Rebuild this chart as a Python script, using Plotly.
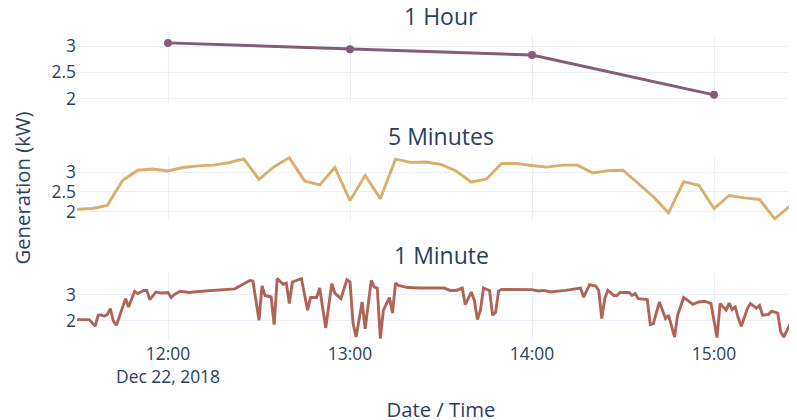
import pandas as pd
import plotly.graph_objects as go
from plotly.subplots import make_subplots

# ---------------- data ----------------
hour_times = ["2018-12-22 12:00", "2018-12-22 13:00", "2018-12-22 14:00", "2018-12-22 15:00"]
hour_values = [3.06, 2.94, 2.83, 2.07]

five_min_start = "2018-12-22 11:30"
five_min_values = [
    2.06, 2.08, 2.16, 2.79, 3.05, 3.08, 3.03, 3.12, 3.16, 3.18, 3.24, 3.34,
    2.82, 3.14, 3.37, 2.78, 2.68, 3.12, 2.28, 2.92, 2.33, 3.33, 3.25, 3.26,
    3.20, 3.03, 2.75, 2.83, 3.22, 3.22, 3.17, 3.13, 3.18, 3.18, 2.98, 3.04,
    3.05, 2.71, 2.38, 1.97, 2.76, 2.67, 2.08, 2.41, 2.35, 2.31, 1.82, 2.14,
    2.42,
]

# 1-minute readings: minutes after 11:30 and value (kW)
one_min_offsets = [
    0, 2, 4, 6, 7, 8, 9, 10, 11, 12, 13, 16, 17, 19, 20, 22, 23, 24, 26, 28,
    30, 31, 32, 34, 37, 40, 46, 52, 57, 58, 60, 61, 62, 64, 65, 66, 68, 69, 70, 71,
    74, 76, 77, 79, 80, 82, 84, 85, 87, 89, 90, 91, 92, 94, 95, 97, 98, 99, 100, 101,
    103, 104, 105, 106, 109, 113, 121, 123, 125, 127, 128, 130, 131, 132, 133, 134, 136, 137, 138, 139,
    140, 145, 150, 152, 154, 156, 161, 166, 167, 169, 171, 172, 173, 174, 175, 177, 178, 179, 182, 183,
    184, 185, 188, 189, 190, 192, 194, 195, 196, 197, 198, 200, 201, 203, 205, 207, 209, 211, 212, 214,
    215, 216, 217, 218, 219, 221, 222, 224, 225, 226, 228, 229, 231, 232, 233, 235, 237, 240,
]
one_min_values = [
    2.05, 2.06, 2.05, 1.80, 2.22, 2.23, 2.18, 2.25, 2.47, 1.99, 1.84, 2.85, 2.53, 3.13, 3.04, 3.16, 3.16, 2.81, 3.10, 3.06,
    3.08, 2.89, 3.00, 3.13, 3.08, 3.12, 3.16, 3.22, 3.54, 3.52, 2.03, 3.33, 2.97, 2.91, 1.86, 3.61, 3.39, 3.44, 2.66, 3.48,
    3.61, 2.41, 2.89, 2.89, 3.25, 1.73, 3.42, 3.06, 2.85, 3.57, 3.48, 1.92, 1.39, 2.72, 1.70, 3.54, 3.29, 3.25, 1.33, 2.41,
    2.89, 2.30, 3.44, 3.35, 3.27, 3.25, 3.25, 3.16, 3.16, 3.25, 2.62, 3.10, 2.78, 2.05, 2.41, 3.25, 3.16, 2.22, 2.34, 3.14,
    3.20, 3.20, 3.19, 3.14, 3.16, 3.10, 3.16, 3.25, 2.91, 3.38, 3.33, 3.16, 2.09, 2.85, 3.16, 2.97, 2.97, 3.08, 3.08, 2.97,
    3.04, 2.85, 2.81, 1.86, 1.90, 2.72, 2.09, 2.22, 1.75, 1.39, 2.22, 2.89, 2.81, 2.63, 2.72, 2.75, 2.66, 1.37, 2.66, 2.41,
    2.68, 2.43, 2.53, 2.11, 1.80, 2.47, 2.66, 2.49, 2.59, 2.22, 2.25, 2.37, 2.30, 1.58, 1.39, 1.84, 2.34, 2.60,
]

subplot_titles = ["1 Hour", "5 Minutes", "1 Minute"]
colors = ["rgb(133, 92, 117)", "rgb(217, 175, 107)", "rgb(175, 100, 88)"]

# ---------------- build ----------------
t0 = pd.Timestamp(five_min_start)
five_min_times = pd.date_range(t0, periods=len(five_min_values), freq="5min")
one_min_times = [t0 + pd.Timedelta(minutes=m) for m in one_min_offsets]

fig = make_subplots(rows=3, cols=1, shared_xaxes=True, vertical_spacing=0.1656,
                    subplot_titles=subplot_titles)

fig.add_trace(go.Scatter(x=pd.to_datetime(hour_times), y=hour_values, mode="lines+markers",
                         line=dict(color=colors[0], width=2.9), marker=dict(size=8),
                         showlegend=False), row=1, col=1)
fig.add_trace(go.Scatter(x=five_min_times, y=five_min_values, mode="lines",
                         line=dict(color=colors[1], width=2.9), showlegend=False), row=2, col=1)
fig.add_trace(go.Scatter(x=one_min_times, y=one_min_values, mode="lines",
                         line=dict(color=colors[2], width=2.9), showlegend=False), row=3, col=1)

font_family = '"Open Sans", verdana, arial, sans-serif'
fig.update_layout(
    template="plotly_white",
    width=797, height=420,
    margin=dict(l=69, r=0, t=26, b=86),
    font=dict(family=font_family, size=17.4, color="#2a3f5f"),
)
for ann in fig.layout.annotations:
    ann.font = dict(size=23, family=font_family, color="#2a3f5f")

fig.update_xaxes(range=["2018-12-22 11:30:00", "2018-12-22 15:30:00"], dtick=3600000,
                 tickfont=dict(size=17.4), automargin=False)
fig.update_xaxes(title=dict(text="Date / Time", font=dict(size=20.3)), row=3, col=1)

fig.update_yaxes(automargin=False)
fig.update_yaxes(range=[1.92, 3.23], dtick=0.5, row=1, col=1)
fig.update_yaxes(range=[1.73, 3.47], dtick=0.5, row=2, col=1,
                 title=dict(text="Generation (kW)", font=dict(size=20.3)))
fig.update_yaxes(range=[1.2, 3.81], dtick=1, row=3, col=1)

fig.write_html("out.html")
